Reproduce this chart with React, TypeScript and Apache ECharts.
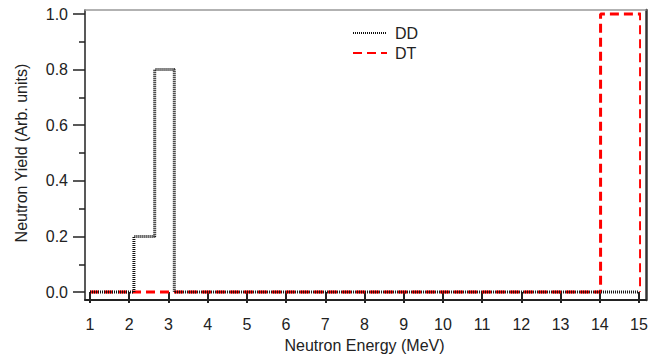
import React, { useEffect, useRef } from "react";
import * as echarts from "echarts";

const ddEdges = [1, 2.12, 2.65, 3.15, 15];
const ddValues = [0, 0.2, 0.8, 0, 0];
const dtEdges = [1, 14.02, 15.04];
const dtValues = [0, 1, 0];
const seriesNames = ["DD", "DT"];
const xTitle = "Neutron Energy (MeV)";
const yTitle = "Neutron Yield (Arb. units)";

const FONT = "'Liberation Sans', Arial, sans-serif";
const AX = "#222";

export default function App() {
  const ref = useRef<HTMLDivElement>(null);
  useEffect(() => {
    if (!ref.current) return;
    const chart = echarts.init(ref.current, undefined, { renderer: "svg" });
    const dd = ddEdges.map((x, i) => [x, ddValues[i]]);
    const dt = dtEdges.map((x, i) => [x, dtValues[i]]);
    const frameAxis = (color: string, width: number) => ({
      show: true,
      type: "value" as const,
      min: 0,
      max: 1,
      axisLine: { show: true, onZero: false, lineStyle: { color, width } },
      axisTick: { show: false },
      axisLabel: { show: false },
      splitLine: { show: false },
    });
    chart.setOption({
      animation: false,
      backgroundColor: "#fff",
      textStyle: { fontFamily: FONT },
      legend: {
        data: seriesNames,
        orient: "vertical",
        left: 347,
        top: 20,
        itemWidth: 34,
        itemHeight: 10,
        itemGap: 4,
        itemStyle: { opacity: 0 },
        textStyle: { fontSize: 16, color: "#222", fontFamily: FONT, padding: [0, 0, 0, 3], lineHeight: 16 },
      },
      grid: [
        { left: 90, right: 21, top: 14, bottom: 62 },
        { left: 85, right: 14, top: 10, bottom: 58 },
      ],
      xAxis: [
        {
          type: "value",
          gridIndex: 0,
          min: 1,
          max: 15,
          interval: 1,
          offset: 4,
          axisLine: { show: false },
          axisTick: { show: true, length: 11, lineStyle: { color: AX, width: 2 } },
          axisLabel: { fontSize: 16, color: "#222", margin: 20, fontFamily: FONT },
          splitLine: { show: false },
          name: xTitle,
          nameLocation: "middle",
          nameGap: 38,
          nameTextStyle: { fontSize: 16, color: "#222", fontFamily: FONT },
        },
        { ...frameAxis(AX, 2), gridIndex: 1, position: "bottom" },
        { ...frameAxis("#999", 1.5), gridIndex: 1, position: "top" },
      ],
      yAxis: [
        {
          type: "value",
          gridIndex: 0,
          min: 0,
          max: 1,
          interval: 0.2,
          offset: 5,
          axisLine: { show: false },
          axisTick: { show: true, length: 12, lineStyle: { color: AX, width: 1.5 } },
          minorTick: { show: true, splitNumber: 2, length: 6, lineStyle: { color: AX, width: 1.5 } },
          axisLabel: {
            fontSize: 16,
            color: "#222",
            margin: 17,
            fontFamily: FONT,
            formatter: (v: number) => v.toFixed(1),
          },
          splitLine: { show: false },
          name: yTitle,
          nameLocation: "middle",
          nameGap: 56,
          nameTextStyle: { fontSize: 16, color: "#222", fontFamily: FONT },
        },
        { ...frameAxis(AX, 1.5), gridIndex: 1, position: "left" },
        { ...frameAxis("#333", 2.5), gridIndex: 1, position: "right" },
      ],
      series: [
        {
          name: "DT",
          type: "line",
          xAxisIndex: 0,
          yAxisIndex: 0,
          data: dt,
          step: "end",
          symbol: "none",
          clip: false,
          lineStyle: { color: "#ff0000", width: 3, type: [9, 5] },
          itemStyle: { color: "#ff0000" },
        },
        {
          name: "DD",
          type: "line",
          xAxisIndex: 0,
          yAxisIndex: 0,
          data: dd,
          step: "end",
          symbol: "none",
          clip: false,
          lineStyle: { color: "#111", width: 3, type: [1, 1] },
          itemStyle: { color: "#111" },
        },
      ],
    });
    return () => chart.dispose();
  }, []);
  return <div ref={ref} style={{ width: 660, height: 358, position: "absolute", left: 0, top: 0 }} />;
}
